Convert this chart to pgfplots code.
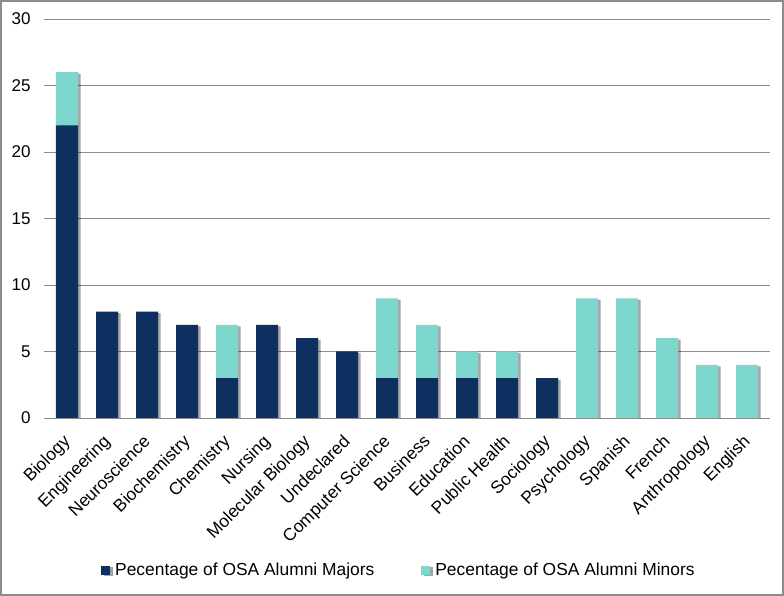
\documentclass[border=0pt]{standalone}
\usepackage{pgfplots}
\pgfplotsset{compat=1.18}
\usepackage{fontspec}
\setmainfont{Liberation Sans}
\usetikzlibrary{shadows}
\definecolor{navy}{HTML}{0E3060}
\definecolor{teal2}{HTML}{7DD7CD}
\definecolor{gridgray}{HTML}{8C8C8C}
\begin{document}
\begin{tikzpicture}
\useasboundingbox (0pt,0pt) rectangle (784pt,596pt);
\draw[gridgray, line width=1.6pt] (0.8pt,0.8pt) rectangle (783.2pt,595.2pt);
\begin{axis}[
  at={(47pt,178pt)}, anchor=south west,
  scale only axis, width=720pt, height=399pt,
  ybar stacked, bar width=22pt,
  xmin=-0.5, xmax=17.5, ymin=0, ymax=30,
  xtick=data,
  xticklabels={Biology,Engineering,Neuroscience,Biochemistry,Chemistry,Nursing,Molecular Biology,Undeclared,Computer Science,Business,Education,Public Health,Sociology,Psychology,Spanish,French,Anthropology,English},
  xticklabel style={font=\fontsize{17.4}{20}\selectfont, xshift=-5pt, yshift=-11pt, rotate=45, anchor=north east, inner sep=1pt},
  ytick={0,5,...,30},
  yticklabel style={font=\fontsize{17}{20}\selectfont, xshift=-10pt},
  /pgf/number format/assume math mode=true,
  axis line style={draw=none},
  ymajorgrids, grid style={gridgray, line width=0.9pt},
  xtick style={draw=none},
  ytick style={gridgray, line width=0.9pt},
  tick align=outside, major tick length=3pt,
  legend columns=2,
  legend style={at={(0.488,-0.381)}, anchor=center, draw=none, fill=none,
    font=\fontsize{17.4}{20}\selectfont, /tikz/every even column/.append style={column sep=44pt}},
  legend image code/.code={\path (-1pt,0pt) -- (12pt,0pt); \fill[#1] (0pt,-4.5pt) rectangle (9pt,4.5pt);},
]
\addplot[fill=navy, draw=none, drop shadow={shadow xshift=2.5pt, shadow yshift=-1.5pt, opacity=0.35, fill=black}] coordinates {(0,22) (1,8) (2,8) (3,7) (4,3) (5,7) (6,6) (7,5) (8,3) (9,3) (10,3) (11,3) (12,3) (13,0) (14,0) (15,0) (16,0) (17,0)};
\addplot[fill=teal2, draw=none, drop shadow={shadow xshift=2.5pt, shadow yshift=-1.5pt, opacity=0.35, fill=black}] coordinates {(0,4) (1,0) (2,0) (3,0) (4,4) (5,0) (6,0) (7,0) (8,6) (9,4) (10,2) (11,2) (12,0) (13,9) (14,9) (15,6) (16,4) (17,4)};
\legend{Pecentage of OSA Alumni Majors, Pecentage of OSA Alumni Minors}
\end{axis}
\end{tikzpicture}
\end{document}
